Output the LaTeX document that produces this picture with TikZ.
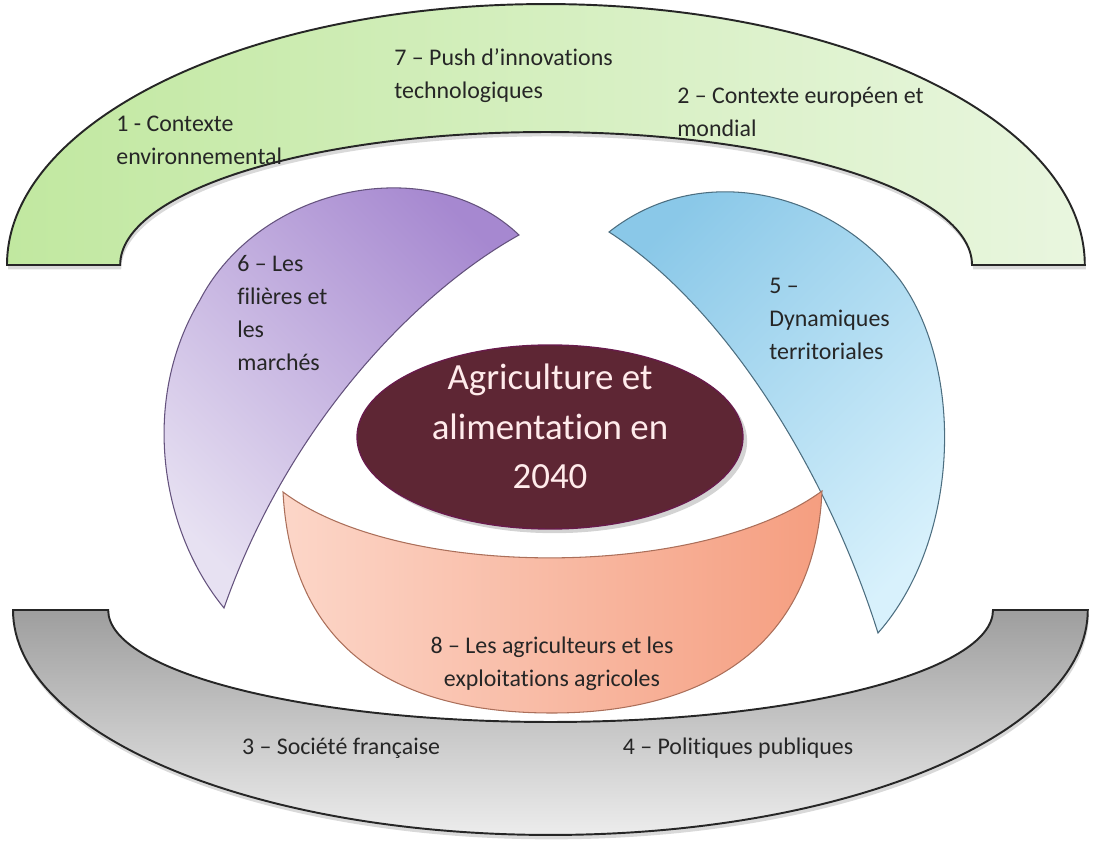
\documentclass[tikz,border=0pt]{standalone}
\usepackage{fontspec}
\setmainfont{Carlito}[Ligatures=NoCommon]
\usetikzlibrary{shapes.geometric,shadows}
\definecolor{bandgreenA}{RGB}{193,232,160}
\definecolor{bandgreenB}{RGB}{233,246,223}
\definecolor{bandgreyA}{RGB}{158,158,158}
\definecolor{bandgreyB}{RGB}{236,236,236}
\definecolor{lilacA}{RGB}{166,136,208}
\definecolor{lilacB}{RGB}{231,225,242}
\definecolor{skyA}{RGB}{138,200,232}
\definecolor{skyB}{RGB}{216,241,252}
\definecolor{peachA}{RGB}{252,214,200}
\definecolor{peachB}{RGB}{245,158,128}
\definecolor{wine}{RGB}{94,38,52}
\tikzset{
  band/.style={draw=black!85,line width=1.1pt,drop shadow={shadow xshift=.6pt,shadow yshift=-2.5pt,opacity=.3}},
  petal/.style={line width=.6pt},
  lbl/.style={inner sep=0pt,align=left,text=black!85,font=\fontsize{13.6}{18.8}\selectfont},
  hub/.style={ellipse,fill=wine,draw=wine!70!violet,line width=.8pt,minimum width=7.72cm,minimum height=3.68cm,
    inner sep=0pt,drop shadow={opacity=.35}},
  hubtext/.style={inner sep=0pt,align=center,text=white!92!red,font=\fontsize{21}{28}\selectfont,yshift=6pt}
}
\begin{document}
\begin{tikzpicture}[x=.02cm,y=-.02cm]
\useasboundingbox (0,0) rectangle (1096,851);
% upper and lower bands
\path[band,left color=bandgreenA,right color=bandgreenB] (7,265) arc[start angle=180,end angle=0,x radius=10.78cm,y radius=5.22cm]
  -- (972,265) arc[start angle=0,end angle=180,x radius=8.52cm,y radius=2.66cm] -- cycle;
\path[band,top color=bandgreyA,bottom color=bandgreyB] (13,610) arc[start angle=180,end angle=360,x radius=10.75cm,y radius=4.5cm]
  -- (993,610) arc[start angle=360,end angle=180,x radius=8.85cm,y radius=2.24cm] -- cycle;
% crescents
\path[petal,draw=lilacA!60!black,top color=lilacA,bottom color=lilacB,shading angle=-45]
  (224,608) .. controls (160,530) and (140,400) .. (200,300) .. controls (260,185) and (430,150) .. (519,235)
  .. controls (420,290) and (290,420) .. (224,608) -- cycle;
\path[petal,draw=skyA!55!black,top color=skyA,bottom color=skyB,shading angle=45]
  (609,232) .. controls (700,160) and (830,190) .. (900,280) .. controls (965,370) and (960,540) .. (878,633)
  .. controls (830,480) and (730,310) .. (609,232) -- cycle;
\path[petal,draw=peachB!70!black,left color=peachA,right color=peachB]
  (283,492) .. controls (400,580) and (700,580) .. (822,491)
  .. controls (815,650) and (700,713) .. (552,713) .. controls (410,713) and (292,660) .. (283,492) -- cycle;
% centre
\node[hub,label={[hubtext]center:{Agriculture et\\alimentation en\\2040}}] (core) at (550,437) {};
% labels
\node[lbl,anchor=west] (ctx1) at (116,140) {1 - Contexte\\environnemental};
\node[lbl,anchor=west] (ctx7) at (394,76) {7 – Push d’innovations\\technologiques};
\node[lbl,anchor=west] (ctx2) at (677,112) {2 – Contexte européen et\\mondial};
\node[lbl,anchor=west] (ctx6) at (237,313) {6 – Les\\filières et\\les\\marchés};
\node[lbl,anchor=west] (ctx5) at (769,319) {5 –\\Dynamiques\\territoriales};
\node[lbl,align=center] (ctx8) at (552,664) {8 – Les agriculteurs et les\\exploitations agricoles};
\node[lbl] (ctx3) at (341,748) {3 – Société française};
\node[lbl] (ctx4) at (738,748) {4 – Politiques publiques};
\end{tikzpicture}
\end{document}
